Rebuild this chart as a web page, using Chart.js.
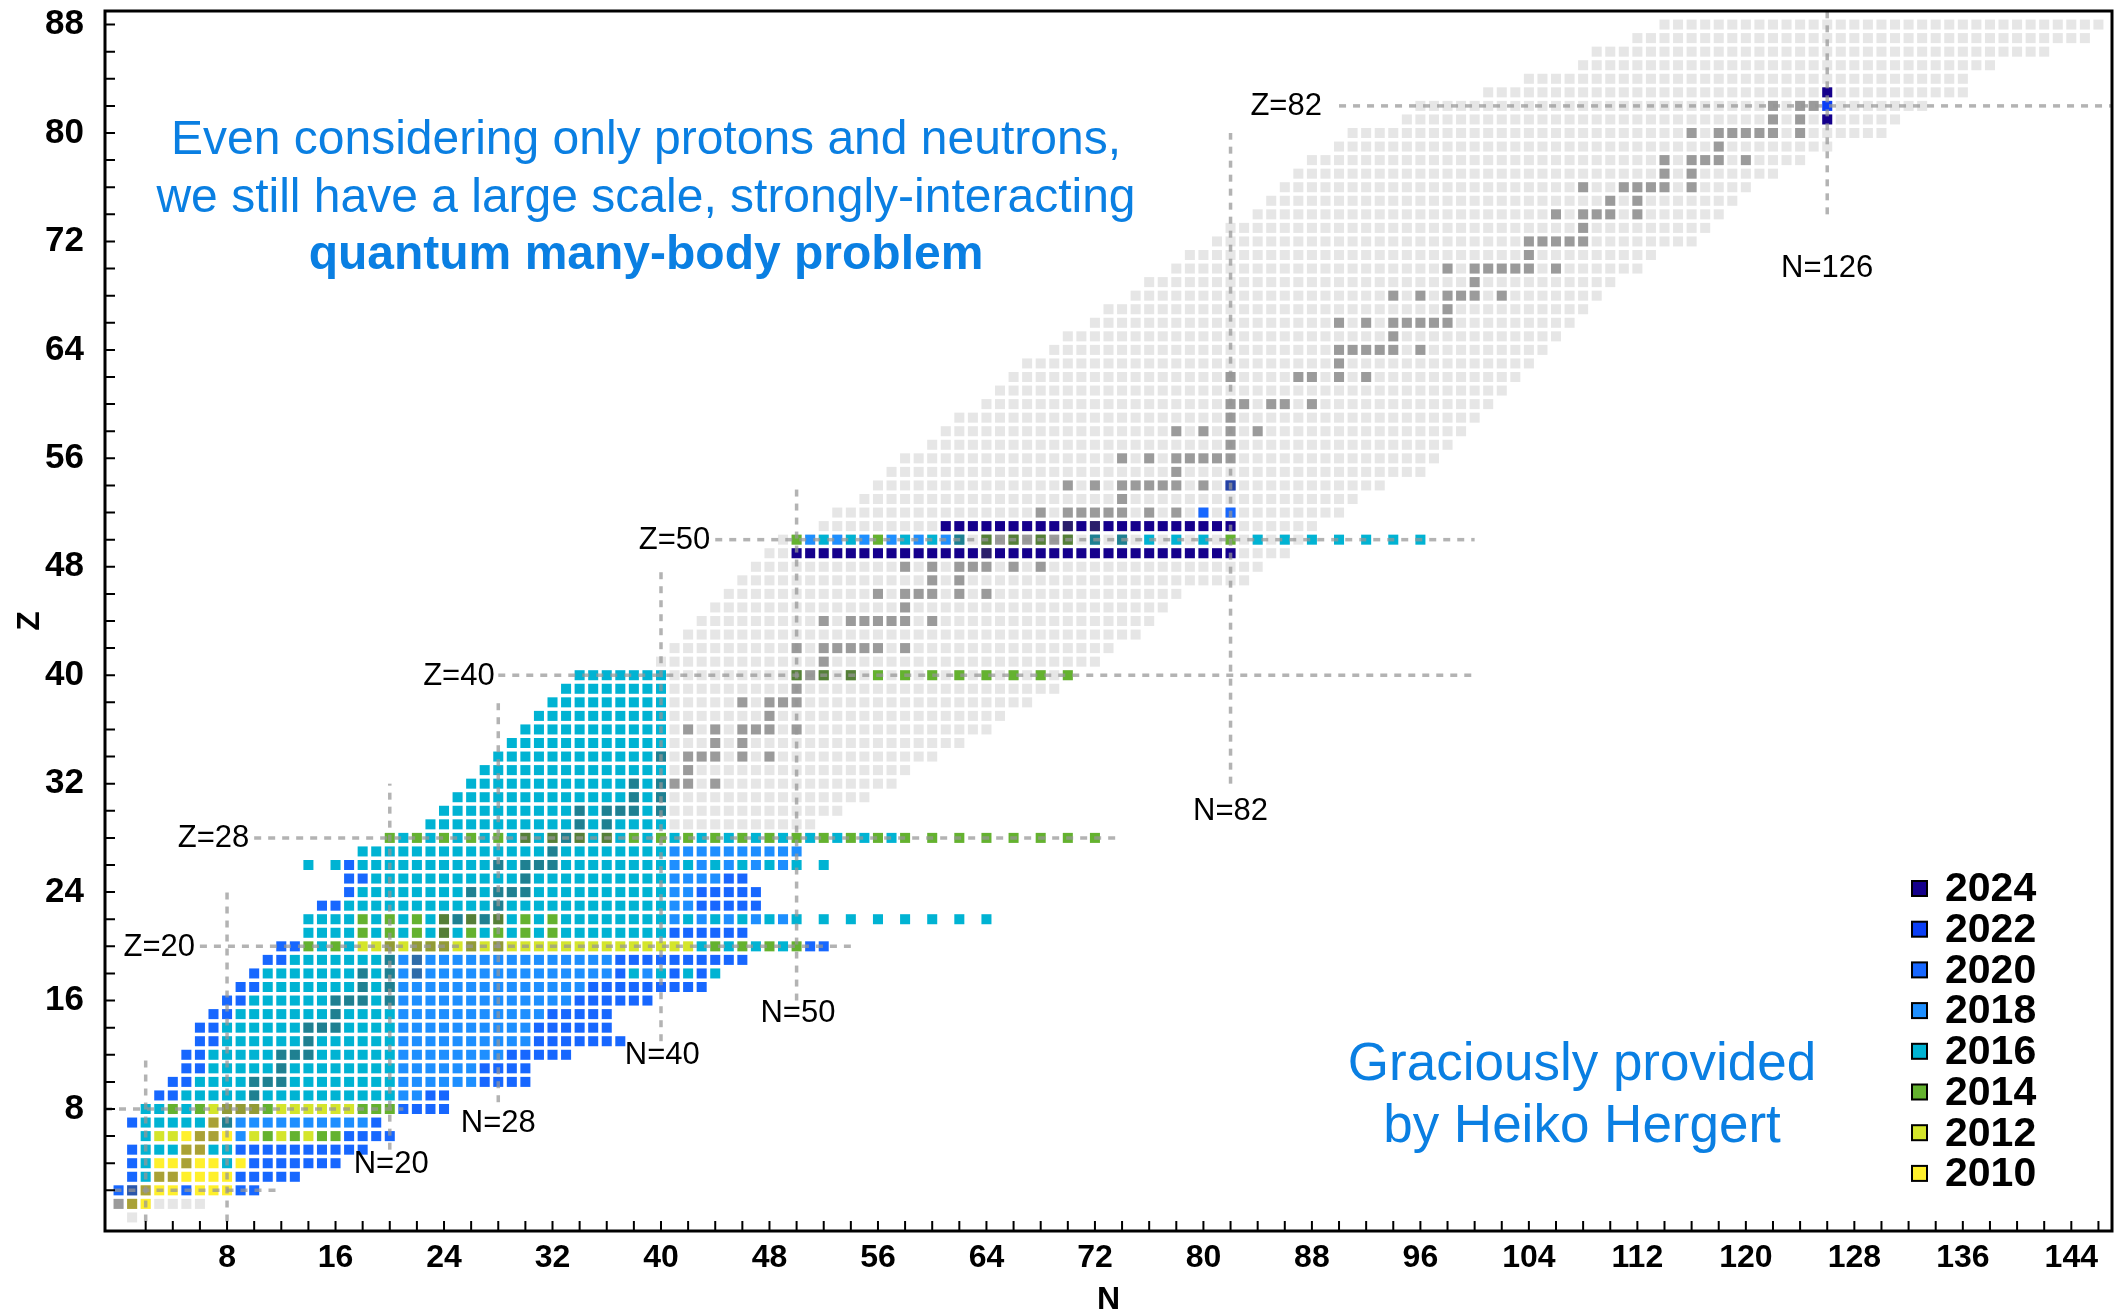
<!DOCTYPE html>
<html>
<head>
<meta charset="utf-8">
<title>Ab initio reach across the nuclear chart</title>
<script src="https://cdn.jsdelivr.net/npm/chart.js@4.4.1/dist/chart.umd.min.js"></script>
<style>
  html, body { margin: 0; padding: 0; background: #ffffff; }
  #wrap { width: 2116px; height: 1316px; position: relative; }
</style>
</head>
<body>
<div id="wrap"><canvas id="chart"></canvas></div>
<script>
// ---------------------------------------------------------------------------
// Axis ranges and tick labels
// ---------------------------------------------------------------------------
const nRange = [-1, 147];
const zRange = [-1, 89];
const nTickLabels = [8, 16, 24, 32, 40, 48, 56, 64, 72, 80, 88, 96, 104, 112, 120, 128, 136, 144];
const zTickLabels = [8, 16, 24, 32, 40, 48, 56, 64, 72, 80, 88];
const minorStep = 2;

// ---------------------------------------------------------------------------
// Years of the calculations (code digit in calcRows = index in this list)
// ---------------------------------------------------------------------------
const years = [2010, 2012, 2014, 2016, 2018, 2020, 2022, 2024];
const yearColors = ['#fff02c', '#d4e52b', '#64b22f', '#00b3d3', '#1e8fff', '#1767ff', '#0b3ff6', '#15008c'];

// Known nuclides: [Z, first N, last N]
const knownRows = [
  [0, 1, 1], [1, 0, 6],
  [29, 41, 51], [30, 41, 53], [31, 41, 55], [32, 41, 57], [33, 41, 58], [34, 41, 60],
  [35, 41, 62], [36, 41, 64], [37, 41, 65], [38, 41, 67], [39, 41, 69], [40, 41, 70],
  [41, 40, 72], [42, 41, 73], [43, 42, 75], [44, 43, 76], [45, 44, 77], [46, 45, 78],
  [47, 46, 83], [48, 47, 84], [49, 48, 86], [50, 49, 87], [51, 52, 88], [52, 53, 90],
  [53, 55, 91], [54, 56, 93], [55, 57, 96], [56, 58, 97], [57, 60, 98], [58, 61, 99],
  [59, 62, 100], [60, 64, 101], [61, 65, 102], [62, 66, 103], [63, 67, 104], [64, 69, 105],
  [65, 70, 106], [66, 72, 107], [67, 73, 108], [68, 75, 109], [69, 76, 110], [70, 78, 112],
  [71, 79, 113], [72, 81, 116], [73, 82, 117], [74, 84, 118], [75, 85, 119], [76, 86, 120],
  [77, 87, 122], [78, 88, 124], [79, 90, 126], [80, 91, 130], [81, 95, 131], [82, 96, 133],
  [83, 101, 136], [84, 104, 136], [85, 108, 138], [86, 109, 142], [87, 112, 145], [88, 114, 146]
];

// Stable nuclides: [Z, [N, ...]]
const stableRows = [
  [1, [0, 1]], [2, [1, 2]], [3, [3, 4]], [4, [5]], [5, [5, 6]], [6, [6, 7]], [7, [7, 8]],
  [8, [8, 9, 10]], [9, [10]], [10, [10, 11, 12]], [11, [12]], [12, [12, 13, 14]], [13, [14]],
  [14, [14, 15, 16]], [15, [16]], [16, [16, 17, 18, 20]], [17, [18, 20]], [18, [18, 20, 22]],
  [19, [20, 22]], [20, [20, 22, 23, 24, 26, 28]], [21, [24]], [22, [24, 25, 26, 27, 28]],
  [23, [28]], [24, [26, 28, 29, 30]], [25, [30]], [26, [28, 30, 31, 32]], [27, [32]],
  [28, [30, 32, 33, 34, 36]], [29, [34, 36]], [30, [34, 36, 37, 38, 40]], [31, [38, 40]],
  [32, [38, 40, 41, 42, 44]], [33, [42]], [34, [40, 42, 43, 44, 46, 48]], [35, [44, 46]],
  [36, [42, 44, 46, 47, 48, 50]], [37, [48]], [38, [46, 48, 49, 50]], [39, [50]],
  [40, [50, 51, 52, 54]], [41, [52]], [42, [50, 52, 53, 54, 55, 56, 58]],
  [44, [52, 54, 55, 56, 57, 58, 60]], [45, [58]], [46, [56, 58, 59, 60, 62, 64]], [47, [60, 62]],
  [48, [58, 60, 62, 63, 64, 66, 68]], [49, [64]], [50, [62, 64, 65, 66, 67, 68, 69, 70, 72, 74]],
  [51, [70, 72]], [52, [68, 70, 71, 72, 73, 74, 76, 78]], [53, [74]],
  [54, [70, 72, 74, 75, 76, 77, 78, 80, 82]], [55, [78]], [56, [74, 76, 78, 79, 80, 81, 82]],
  [57, [82]], [58, [78, 80, 82, 84]], [59, [82]], [60, [82, 83, 85, 86, 88]],
  [62, [82, 87, 88, 90, 92]], [63, [90]], [64, [90, 91, 92, 93, 94, 96]], [65, [94]],
  [66, [90, 92, 94, 95, 96, 97, 98]], [67, [98]], [68, [94, 96, 98, 99, 100, 102]], [69, [100]],
  [70, [98, 100, 101, 102, 103, 104, 106]], [71, [104]], [72, [104, 105, 106, 107, 108]],
  [73, [108]], [74, [106, 108, 109, 110, 112]], [75, [110, 112]],
  [76, [108, 111, 112, 113, 114, 116]], [77, [114, 116]], [78, [114, 116, 117, 118, 120]],
  [79, [118]], [80, [116, 118, 119, 120, 121, 122, 124]], [81, [122, 124]], [82, [122, 124, 125]]
];

// Calculated nuclei: [Z, first N, run-length codes]; a token "ABxn" repeats
// the pattern "AB" n times, "." marks an empty cell, digits index `years`.
const calcRows = [
  [1, 1, '0x2'],
  [2, 0, '55 000 5 000 55'],
  [3, 1, '5 3 0x6 5x5'],
  [4, 1, '5 3 0x5 3 0 5x7'],
  [5, 1, '5 3x3 0x2 3x2 5x10'],
  [6, 2, '3 1x2 0x4 4 12x2 1 2x2 5x4'],
  [7, 1, '5 3x5 0 3 4x10 5'],
  [8, 2, '33232 1x4 2 1x6 2x3 5x4'],
  [9, 3, '5x2 3x16 4x2 5x2'],
  [10, 4, '5x2 3x15 4x6 5x4'],
  [11, 5, '5x2 3x14 4x6 5x4'],
  [12, 5, '5x2 3x14 4x8 5x5'],
  [13, 6, '5x2 3x13 4x10 5x7'],
  [14, 6, '5x2 3x13 4x10 5x6'],
  [15, 7, '5x2 3x12 4x11 5x5'],
  [16, 8, '5x2 3x11 4x13 5x6'],
  [17, 9, '5x2 3x10 4x14 5x9'],
  [18, 10, '5 3x10 4x16 53435353'],
  [19, 11, '5x2 3x8 4x16 5x10'],
  [20, 12, '5x2 23x2 1x25 32x4 5x2'],
  [21, 14, '3x4 23x8 3x7 5x6'],
  [22, 14, '3x4 23x7 2 3x8 43x5 . 3.x6 3'],
  [23, 15, '5x2 3x24 4x2 5x5'],
  [24, 17, '5 3x23 4x2 5x5'],
  [25, 17, '5x2 3x22 4x4 5x2'],
  [26, 14, '3.35 3x23 43x5 .3'],
  [27, 18, '3x23 4x10'],
  [28, 20, '23x19 2 .2x7'],
  [29, 23, '3x18'], [30, 24, '3x17'], [31, 25, '3x16'], [32, 26, '3x15'],
  [33, 27, '3x14'], [34, 28, '3x13'], [35, 29, '3x12'], [36, 30, '3x11'],
  [37, 31, '3x10'], [38, 32, '3x9'], [39, 33, '3x8'],
  [40, 34, '3x7 .x9 2.x10 2'],
  [49, 50, '7x33'],
  [50, 50, '2 43x2 4 2 43x2 4 3. 2.x4 3.x5 2. 3.x6 3'],
  [51, 61, '7x22'],
  [52, 80, '5.5'],
  [54, 82, '6'],
  [81, 126, '7'], [82, 126, '6'], [83, 126, '7']
];

// Shell closures drawn as dashed guides: [magic number, from, to]
const magicZ = [[2, -0.3, 12], [8, -1, 21], [20, 6, 54], [28, 10, 74], [40, 28, 100], [50, 44, 100], [82, 90, 147]];
const magicN = [[2, -0.3, 12], [8, -0.3, 24], [20, 5, 32], [28, 8.5, 38], [40, 13, 48], [50, 16, 54], [82, 32, 80], [126, 74, 89]];
// Guide labels: [text, N, Z] (centre of the text)
const magicLabels = [
  ['Z=82', 86.1, 82], ['N=126', 126, 70.1], ['Z=50', 41, 50], ['Z=40', 25.1, 40],
  ['N=82', 82, 30], ['Z=28', 7, 28], ['Z=20', 3, 20], ['N=50', 50.1, 15.1],
  ['N=40', 40.1, 12], ['N=28', 28, 7], ['N=20', 20.1, 4]
];

const noteLines = ['Even considering only protons and neutrons,', 'we still have a large scale, strongly-interacting', 'quantum many-body problem'];
const creditLines = ['Graciously provided', 'by Heiko Hergert'];

// ---------------------------------------------------------------------------
// Build the point lists
// ---------------------------------------------------------------------------
function expandRow(spec) {
  return spec.split(' ').map(tok => {
    const [pat, n] = tok.split('x');
    return pat.repeat(n ? Number(n) : 1);
  }).join('');
}

const knownCells = [];
knownRows.forEach(([z, n0, n1]) => { for (let n = n0; n <= n1; n++) knownCells.push({x: n, y: z}); });

const stableCells = [];
stableRows.forEach(([z, ns]) => ns.forEach(n => stableCells.push({x: n, y: z})));

const yearCells = years.map(() => []);
calcRows.forEach(([z, n0, spec]) => {
  [...expandRow(spec)].forEach((c, i) => {
    if (c !== '.') yearCells[Number(c)].push({x: n0 + i, y: z});
  });
});

const FONT = '"Liberation Sans", Arial, Helvetica, sans-serif';
const TEXT_BLUE = '#0a7fe2';

function cellRadius(chart) {
  const s = chart.scales.x;
  if (!s) return 7;
  const pitch = Math.abs(s.getPixelForValue(1) - s.getPixelForValue(0));
  return pitch * 0.74 / Math.SQRT2;
}

const datasets = [
  {label: 'known', data: knownCells, backgroundColor: '#e6e6e6', order: 30}
];
years.forEach((yr, i) => {
  datasets.push({label: String(yr), data: yearCells[i], backgroundColor: yearColors[i], order: 20});
});
datasets.push({label: 'stable', data: stableCells, backgroundColor: 'rgba(68,68,68,0.46)', order: 10});

// ---------------------------------------------------------------------------
// Decorations: guides, frame, inward ticks, legend and notes
// ---------------------------------------------------------------------------
const decorations = {
  id: 'decorations',
  afterDatasetsDraw(chart) {
    const {ctx, chartArea: a, scales: {x, y}} = chart;
    ctx.save();
    ctx.beginPath();
    ctx.rect(a.left, a.top, a.right - a.left, a.bottom - a.top);
    ctx.clip();
    ctx.strokeStyle = 'rgba(150,150,150,0.72)';
    ctx.lineWidth = 3.5;
    ctx.setLineDash([7, 7]);
    magicZ.forEach(([z, n0, n1]) => {
      const py = y.getPixelForValue(z);
      ctx.beginPath();
      ctx.moveTo(x.getPixelForValue(n0), py);
      ctx.lineTo(x.getPixelForValue(n1), py);
      ctx.stroke();
    });
    magicN.forEach(([n, z0, z1]) => {
      const px = x.getPixelForValue(n);
      ctx.beginPath();
      ctx.moveTo(px, y.getPixelForValue(z0));
      ctx.lineTo(px, y.getPixelForValue(z1));
      ctx.stroke();
    });
    ctx.setLineDash([]);
    ctx.fillStyle = '#000';
    ctx.font = '31px ' + FONT;
    ctx.textAlign = 'center';
    ctx.textBaseline = 'middle';
    magicLabels.forEach(([t, n, z]) => ctx.fillText(t, x.getPixelForValue(n), y.getPixelForValue(z) + 1));
    ctx.restore();
  },
  afterDraw(chart) {
    const {ctx, chartArea: a, scales: {x, y}} = chart;
    ctx.save();
    // frame
    ctx.strokeStyle = '#000';
    ctx.lineWidth = 3;
    ctx.strokeRect(a.left, a.top, a.right - a.left, a.bottom - a.top);
    // inward ticks
    ctx.lineWidth = 2;
    ctx.beginPath();
    for (let v = minorStep; v < nRange[1]; v += minorStep) {
      const px = x.getPixelForValue(v);
      ctx.moveTo(px, a.bottom);
      ctx.lineTo(px, a.bottom - 10);
    }
    for (let v = minorStep; v < zRange[1]; v += minorStep) {
      const py = y.getPixelForValue(v);
      ctx.moveTo(a.left, py);
      ctx.lineTo(a.left + 10, py);
    }
    ctx.stroke();

    // legend, newest year on top
    ctx.textAlign = 'left';
    ctx.textBaseline = 'middle';
    ctx.font = 'bold 41px ' + FONT;
    const order = years.map((_, i) => i).reverse();
    order.forEach((idx, row) => {
      const cy = 888 + row * 40.7;
      ctx.fillStyle = yearColors[idx];
      ctx.fillRect(1912, cy - 7, 15, 15);
      ctx.strokeStyle = '#000';
      ctx.lineWidth = 2;
      ctx.strokeRect(1912, cy - 7, 15, 15);
      ctx.fillStyle = '#000';
      ctx.fillText(String(years[idx]), 1945, cy + 2);
    });

    // notes
    ctx.fillStyle = TEXT_BLUE;
    ctx.textAlign = 'center';
    ctx.textBaseline = 'alphabetic';
    ctx.font = '48px ' + FONT;
    ctx.fillText(noteLines[0], 646, 154);
    ctx.fillText(noteLines[1], 646, 212);
    ctx.font = 'bold 48px ' + FONT;
    ctx.fillText(noteLines[2], 646, 269);
    ctx.font = '53px ' + FONT;
    ctx.fillText(creditLines[0], 1582, 1080);
    ctx.fillText(creditLines[1], 1582, 1142);
    ctx.restore();
  }
};

function tickList(range) {
  const t = [{value: range[0]}];
  for (let v = minorStep; v < range[1]; v += minorStep) t.push({value: v});
  t.push({value: range[1]});
  return t;
}

// the plot box is fixed; labels never push it inwards
function noEdgePadding(s) {
  s.paddingTop = 0; s.paddingBottom = 0; s.paddingLeft = 0; s.paddingRight = 0;
}

new Chart(document.getElementById('chart'), {
  type: 'scatter',
  data: {datasets},
  options: {
    responsive: true,
    maintainAspectRatio: false,
    devicePixelRatio: 1,
    animation: false,
    events: [],
    layout: {padding: {top: 11, right: 4, left: 0, bottom: 0}},
    elements: {
      point: {
        pointStyle: 'rect',
        radius: ctx => cellRadius(ctx.chart),
        hoverRadius: ctx => cellRadius(ctx.chart),
        borderWidth: 0,
        hitRadius: 0
      }
    },
    plugins: {legend: {display: false}, tooltip: {enabled: false}},
    scales: {
      x: {
        type: 'linear', position: 'bottom', min: nRange[0], max: nRange[1],
        grid: {display: false, drawTicks: false},
        border: {display: false},
        afterBuildTicks: s => { s.ticks = tickList(nRange); },
        afterFit: s => { s.height = 85; noEdgePadding(s); },
        ticks: {
          autoSkip: false, maxRotation: 0, padding: 8, color: '#000',
          font: {family: FONT, size: 32, weight: 'bold'},
          callback: v => nTickLabels.includes(v) ? String(v) : null
        },
        title: {display: true, text: 'N', color: '#000', font: {family: FONT, size: 32, weight: 'bold', lineHeight: 1}, padding: {top: 0, bottom: 0}}
      },
      y: {
        type: 'linear', position: 'left', min: zRange[0], max: zRange[1],
        grid: {display: false, drawTicks: false},
        border: {display: false},
        afterBuildTicks: s => { s.ticks = tickList(zRange); },
        afterFit: s => { s.width = 105; noEdgePadding(s); },
        ticks: {
          autoSkip: false, padding: 21, color: '#000',
          font: {family: FONT, size: 35, weight: 'bold'},
          callback: v => zTickLabels.includes(v) ? String(v) : null
        },
        title: {display: true, text: 'Z', color: '#000', font: {family: FONT, size: 32, weight: 'bold', lineHeight: 1}, padding: {top: 14, bottom: 0}}
      }
    }
  },
  plugins: [decorations]
});
</script>
</body>
</html>
